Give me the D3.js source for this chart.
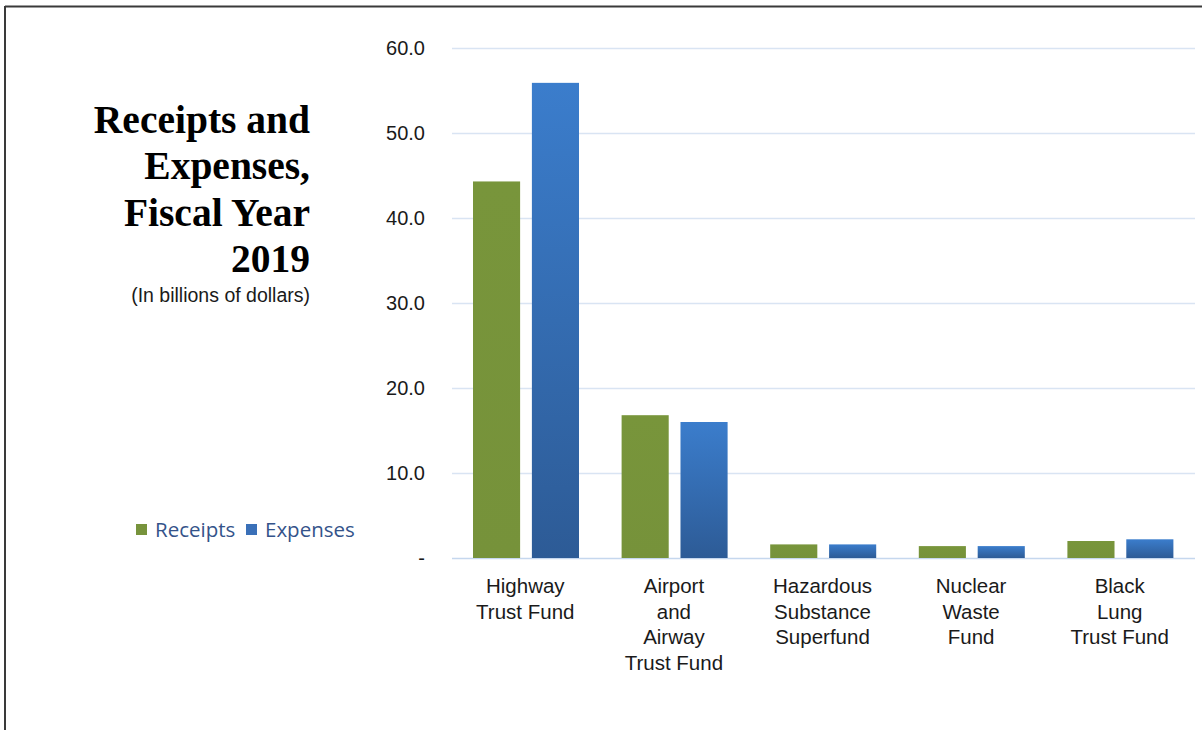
<!DOCTYPE html>
<html>
<head>
<meta charset="utf-8">
<script src="https://cdn.jsdelivr.net/npm/d3@7"></script>
<style>
  html, body { margin: 0; padding: 0; background: #fff; }
  svg { display: block; }
</style>
</head>
<body>
<svg id="chart" width="1202" height="730"></svg>
<script>
// Trust fund receipts and expenses, FY2019 (billions of dollars)
const categories = [
  ["Highway", "Trust Fund"],
  ["Airport", "and", "Airway", "Trust Fund"],
  ["Hazardous", "Substance", "Superfund"],
  ["Nuclear", "Waste", "Fund"],
  ["Black", "Lung", "Trust Fund"]
];
const seriesNames = ["Receipts", "Expenses"];
const receipts = [44.3, 16.8, 1.6, 1.4, 2.0];
const expenses = [55.9, 16.0, 1.6, 1.4, 2.2];
const yTicks = [0, 10, 20, 30, 40, 50, 60];
const titleLines = ["Receipts and", "Expenses,", "Fiscal Year", "2019"];
const subtitle = "(In billions of dollars)";

const svg = d3.select("#chart");
const catKeys = categories.map(c => c.join(" "));
const series = [receipts, expenses];

// gradients for each series (light at top, darker at bottom)
const defs = svg.append("defs");
const gradStops = [
  ["#78953B", "#76923A"],
  ["#3B7DCC", "#2D5B96"]
];
gradStops.forEach((s, i) => {
  const g = defs.append("linearGradient")
    .attr("id", "grad" + i)
    .attr("x1", 0).attr("y1", 0).attr("x2", 0).attr("y2", 1);
  g.append("stop").attr("offset", "0%").attr("stop-color", s[0]);
  g.append("stop").attr("offset", "100%").attr("stop-color", s[1]);
});
const legendColors = ["#77933C", "#3A70B8"];

// frame lines along the top and left edges
svg.append("line").attr("x1", 5).attr("x2", 1202).attr("y1", 6.5).attr("y2", 6.5)
  .attr("stroke", "#3a3a3a").attr("stroke-width", 2);
svg.append("line").attr("x1", 5).attr("x2", 5).attr("y1", 6).attr("y2", 730)
  .attr("stroke", "#3a3a3a").attr("stroke-width", 2);

const y = d3.scaleLinear().domain([0, 60]).range([558, 48]);
const x0 = d3.scaleBand().domain(catKeys).range([452, 1195]).paddingInner(0).paddingOuter(0);
const x1 = d3.scaleBand().domain(seriesNames).range([21, 127]).paddingInner(0.2);

// gridlines
const grid = svg.append("g");
grid.selectAll("line").data(yTicks).join("line")
  .attr("x1", 452).attr("x2", 1195)
  .attr("y1", d => Math.round(y(d)) + 0.5).attr("y2", d => Math.round(y(d)) + 0.5)
  .attr("stroke", d => d === 0 ? "#C5D7EE" : "#D9E4F3")
  .attr("stroke-width", 1.5);

// y-axis labels
const yAxis = d3.axisLeft(y).tickValues(yTicks).tickSize(0)
  .tickFormat(d => d === 0 ? "-" : d3.format(".1f")(d));
const yg = svg.append("g").attr("transform", "translate(432,0)").call(yAxis);
yg.select(".domain").remove();
yg.selectAll("text")
  .attr("font-family", "Liberation Sans, Arial, sans-serif")
  .attr("font-size", 20)
  .attr("fill", "#1a1a1a")
  .attr("x", -7)
  .attr("dy", "0.34em");

// bars
const groups = svg.append("g").selectAll("g").data(catKeys).join("g")
  .attr("transform", d => `translate(${x0(d)},0)`);
groups.selectAll("rect")
  .data((d, i) => seriesNames.map((s, j) => ({ s, j, v: series[j][i] })))
  .join("rect")
  .attr("x", d => x1(d.s))
  .attr("width", x1.bandwidth())
  .attr("y", d => y(d.v))
  .attr("height", d => y(0) - y(d.v))
  .attr("fill", d => `url(#grad${d.j})`);

// category labels
const labels = svg.append("g").selectAll("text").data(categories).join("text")
  .attr("x", (d, i) => x0(catKeys[i]) + x0.bandwidth() / 2 - 1)
  .attr("y", 593)
  .attr("text-anchor", "middle")
  .attr("font-family", "Liberation Sans, Arial, sans-serif")
  .attr("font-size", 20.5)
  .attr("fill", "#1a1a1a");
labels.selectAll("tspan").data(d => d).join("tspan")
  .attr("x", function () { return d3.select(this.parentNode).attr("x"); })
  .attr("dy", (d, i) => i === 0 ? 0 : 25.5)
  .text(d => d);

// title block
const title = svg.append("text")
  .attr("text-anchor", "end")
  .attr("font-family", "Liberation Serif, Times New Roman, serif")
  .attr("font-weight", "bold")
  .attr("font-size", 39.5)
  .attr("fill", "#000");
title.selectAll("tspan").data(titleLines).join("tspan")
  .attr("x", 310)
  .attr("y", (d, i) => 133 + i * 46.3)
  .text(d => d);
svg.append("text")
  .attr("x", 310).attr("y", 301.5)
  .attr("text-anchor", "end")
  .attr("font-family", "Liberation Sans, Arial, sans-serif")
  .attr("font-size", 19.5)
  .attr("fill", "#1a1a1a")
  .text(subtitle);

// legend
const legend = svg.append("g");
const legendX = [136, 246];
seriesNames.forEach((s, i) => {
  legend.append("rect")
    .attr("x", legendX[i]).attr("y", 524)
    .attr("width", 11).attr("height", 11)
    .attr("fill", legendColors[i]);
  legend.append("text")
    .attr("x", legendX[i] + 19).attr("y", 537)
    .attr("font-family", "Open Sans, sans-serif")
    .attr("font-size", 20.5)
    .attr("fill", "#34538A")
    .text(s);
});
</script>
</body>
</html>
